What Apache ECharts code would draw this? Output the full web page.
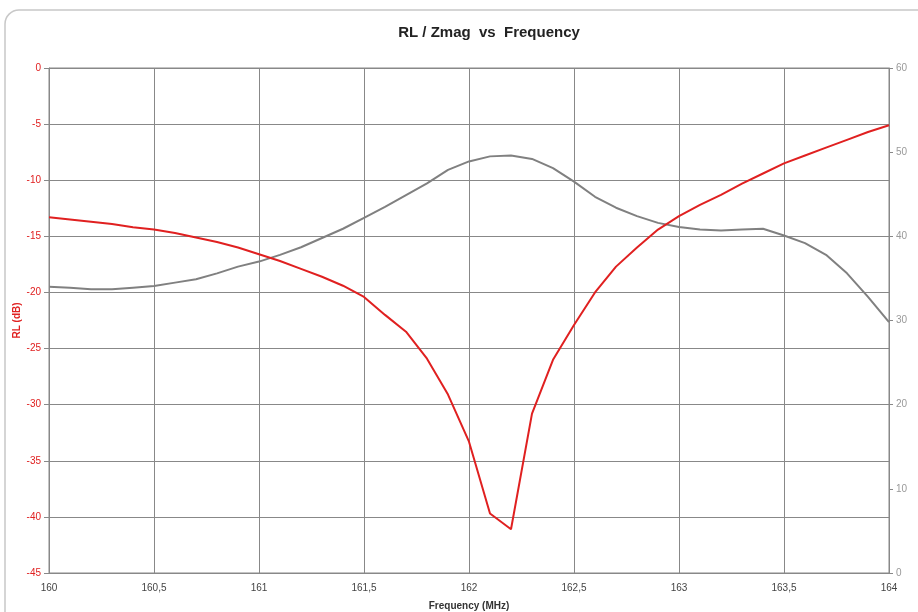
<!DOCTYPE html>
<html>
<head>
<meta charset="utf-8">
<script src="https://cdn.jsdelivr.net/npm/echarts@6/dist/echarts.min.js"></script>
<style>html,body{margin:0;padding:0;background:#fff}#c{width:918px;height:612px}</style>
</head>
<body>
<div id="c"></div>
<script>
const freq = [160.0,160.1,160.2,160.3,160.4,160.5,160.6,160.7,160.8,160.9,161.0,161.1,161.2,161.3,161.4,161.5,161.6,161.7,161.8,161.9,162.0,162.1,162.2,162.3,162.4,162.5,162.6,162.7,162.8,162.9,163.0,163.1,163.2,163.3,163.4,163.5,163.6,163.7,163.8,163.9,164.0];
const rl = [-13.3,-13.5,-13.7,-13.9,-14.2,-14.4,-14.7,-15.1,-15.5,-16.0,-16.6,-17.2,-17.9,-18.6,-19.4,-20.4,-22.0,-23.5,-25.9,-29.1,-33.3,-39.7,-41.1,-30.8,-26.0,-22.9,-20.0,-17.7,-16.0,-14.4,-13.2,-12.2,-11.3,-10.3,-9.4,-8.5,-7.8,-7.1,-6.4,-5.7,-5.1];
const zmag = [34.0,33.9,33.7,33.7,33.9,34.1,34.5,34.9,35.6,36.4,37.0,37.8,38.7,39.8,40.9,42.2,43.5,44.9,46.3,47.9,48.9,49.5,49.6,49.2,48.1,46.5,44.7,43.4,42.4,41.6,41.1,40.8,40.7,40.8,40.9,40.1,39.2,37.8,35.6,32.8,29.8];

const chart = echarts.init(document.getElementById('c'));
const font = 'Liberation Sans, Arial, sans-serif';
chart.setOption({
  animation: false,
  backgroundColor: '#fff',
  graphic: [{
    type: 'rect', z: -10, silent: true,
    shape: {x: 5, y: 10, width: 980, height: 660, r: 14},
    style: {fill: '#fff', stroke: '#c8c8c8', lineWidth: 1.5}
  }],
  title: {
    text: 'RL / Zmag  vs  Frequency',
    left: 484, top: 20, textAlign: 'center',
    textStyle: {fontFamily: font, fontSize: 15, fontWeight: 'bold', color: '#222'}
  },
  grid: {left: 49, right: 29, top: 68, bottom: 39, show: true, borderColor: '#888', borderWidth: 1,
    containLabel: false, outerBoundsMode: 'none'},
  xAxis: {
    type: 'value', min: 160, max: 164, interval: 0.5,
    name: 'Frequency (MHz)', nameLocation: 'middle', nameGap: 28, nameMoveOverlap: false,
    nameTextStyle: {fontFamily: font, fontSize: 10, fontWeight: 'bold', color: '#333'},
    axisLine: {show: true, lineStyle: {color: '#888'}},
    axisTick: {show: true, length: 4, lineStyle: {color: '#888'}},
    axisLabel: {fontFamily: font, fontSize: 10, color: '#444', margin: 10,
      formatter: v => String(+v.toFixed(1)).replace('.', ',')},
    splitLine: {show: true, lineStyle: {color: '#888', width: 1}}
  },
  yAxis: [{
    type: 'value', min: -45, max: 0, interval: 5, position: 'left',
    name: 'RL (dB)', nameLocation: 'middle', nameGap: 27, nameMoveOverlap: false,
    nameTextStyle: {fontFamily: font, fontSize: 10, fontWeight: 'bold', color: '#e02020'},
    axisLine: {show: true, lineStyle: {color: '#888'}},
    axisTick: {show: true, length: 5, lineStyle: {color: '#888'}},
    axisLabel: {fontFamily: font, fontSize: 10, color: '#e02020', margin: 8},
    splitLine: {show: true, lineStyle: {color: '#888', width: 1}}
  }, {
    type: 'value', min: 0, max: 60, interval: 10, position: 'right',
    name: 'Zmag (Ohm)', nameLocation: 'middle', nameGap: 30, nameMoveOverlap: false,
    nameTextStyle: {fontFamily: font, fontSize: 10, fontWeight: 'bold', color: '#666'},
    axisLine: {show: true, lineStyle: {color: '#888'}},
    axisTick: {show: true, length: 4, lineStyle: {color: '#888'}},
    axisLabel: {fontFamily: font, fontSize: 10, color: '#999', margin: 7},
    splitLine: {show: false}
  }],
  series: [{
    name: 'RL', type: 'line', yAxisIndex: 0, showSymbol: false,
    data: freq.map((f, i) => [f, rl[i]]),
    lineStyle: {color: '#e02020', width: 2}, itemStyle: {color: '#e02020'}, z: 3
  }, {
    name: 'Zmag', type: 'line', yAxisIndex: 1, showSymbol: false,
    data: freq.map((f, i) => [f, zmag[i]]),
    lineStyle: {color: '#808080', width: 2}, itemStyle: {color: '#808080'}, z: 2
  }]
});
</script>
</body>
</html>
